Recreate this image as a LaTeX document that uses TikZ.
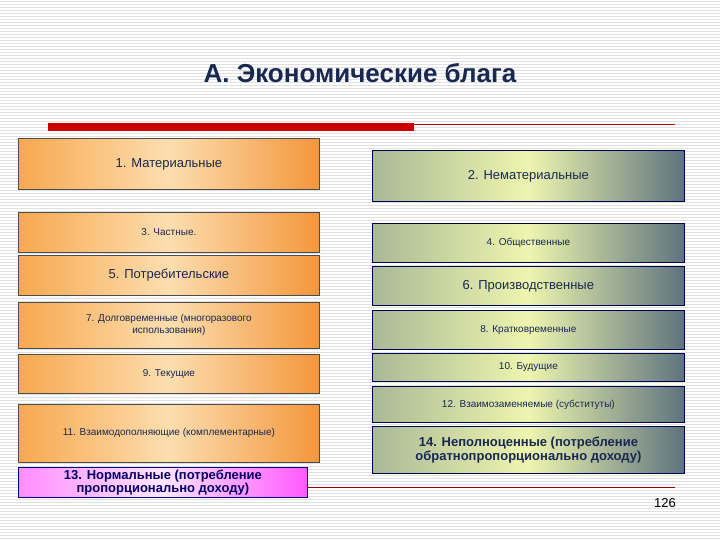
\documentclass[tikz,border=0pt]{standalone}
\usepackage{fontspec}
\setmainfont{Liberation Sans}
\definecolor{oL}{RGB}{248,168,80}
\definecolor{oM}{RGB}{252,222,175}
\definecolor{oR}{RGB}{244,150,60}
\definecolor{gL}{RGB}{170,185,150}
\definecolor{gM}{RGB}{238,245,175}
\definecolor{gR}{RGB}{95,115,125}
\definecolor{tx}{RGB}{25,40,80}
\begin{document}
\begin{tikzpicture}[x=1pt,y=-1pt,
  ob/.style={draw=black!70,line width=0.8pt,left color=oL,right color=oR,middle color=oM,inner sep=2pt,align=center,text=tx,anchor=north west},
  gb/.style={draw=blue!30!black,line width=0.8pt,left color=gL,right color=gR,middle color=gM,inner sep=2pt,align=center,text=tx,anchor=north west},
  pb/.style={draw=blue!50!black,line width=0.8pt,left color=magenta!45!white,right color=magenta!65!white,middle color=magenta!10!white,inner sep=1pt,align=center,text=blue!40!black,anchor=north west,font=\bfseries\fontsize{13}{13}\selectfont}]
\useasboundingbox (0,0) rectangle (720,540);
\fill[white] (0,0) rectangle (720,540);
\foreach \y in {1,4,...,540} \draw[black!12,line width=0.5pt] (0,\y) -- (720,\y);
\node[font=\bfseries\fontsize{26}{26}\selectfont,text=tx] (title) at (360,73) {А. Экономические блага};
\fill[red!80!black] (48,123) rectangle (414,131);
\draw[red!70!black,line width=0.6pt] (414,124) -- (675,124);
\node[ob,minimum width=301pt,minimum height=51pt,font=\fontsize{13}{13}\selectfont] (n1) at (18,138) {1. Материальные};
\node[ob,minimum width=301pt,minimum height=40pt,font=\fontsize{10}{10}\selectfont] (n3) at (18,212) {3. Частные.};
\node[ob,minimum width=301pt,minimum height=40pt,font=\fontsize{13}{13}\selectfont] (n5) at (18,255) {5. Потребительские};
\node[ob,minimum width=301pt,minimum height=46pt,font=\fontsize{10}{12}\selectfont] (n7) at (18,302) {7. Долговременные (многоразового\\использования)};
\node[ob,minimum width=301pt,minimum height=39pt,font=\fontsize{10}{10}\selectfont] (n9) at (18,354) {9. Текущие};
\node[ob,minimum width=301pt,minimum height=58pt,font=\fontsize{10}{10}\selectfont] (n11) at (18,404) {11. Взаимодополняющие (комплементарные)};
\node[pb,minimum width=289pt,minimum height=30pt] (n13) at (18,467) {13. Нормальные (потребление\\пропорционально доходу)};
\node[gb,minimum width=312pt,minimum height=51pt,font=\fontsize{13}{13}\selectfont] (n2) at (372,150) {2. Нематериальные};
\node[gb,minimum width=312pt,minimum height=39pt,font=\fontsize{10}{10}\selectfont] (n4) at (372,223) {4. Общественные};
\node[gb,minimum width=312pt,minimum height=39pt,font=\fontsize{13}{13}\selectfont] (n6) at (372,266) {6. Производственные};
\node[gb,minimum width=312pt,minimum height=39pt,font=\fontsize{10}{10}\selectfont] (n8) at (372,310) {8. Кратковременные};
\node[gb,minimum width=312pt,minimum height=28pt,font=\fontsize{10}{10}\selectfont] (n10) at (372,353) {10. Будущие};
\node[gb,minimum width=312pt,minimum height=36pt,font=\fontsize{10}{10}\selectfont] (n12) at (372,386) {12. Взаимозаменяемые (субституты)};
\node[gb,minimum width=312pt,minimum height=47pt,font=\bfseries\fontsize{13}{14}\selectfont] (n14) at (372,426) {14. Неполноценные (потребление\\обратнопропорционально доходу)};
\draw[red!60!black,line width=0.6pt] (n13.east |- 0,487) -- (675,487);
\node[font=\fontsize{13}{13}\selectfont] (pg) at (665,503) {126};
\end{tikzpicture}
\end{document}
